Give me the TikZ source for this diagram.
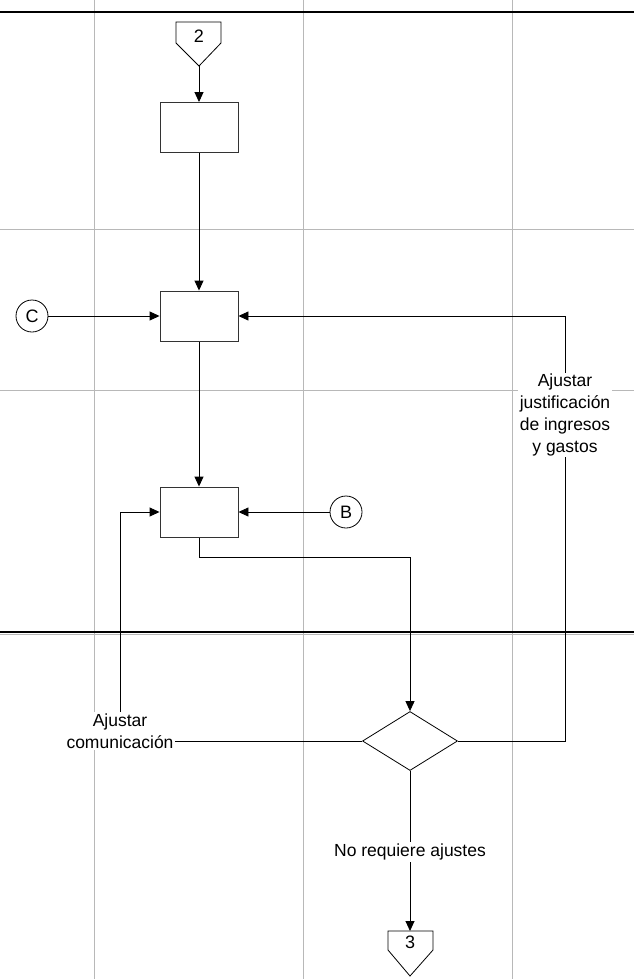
\documentclass[tikz,border=0pt]{standalone}
\usepackage{fontspec}
\setmainfont{Liberation Sans}
\usetikzlibrary{arrows.meta,shapes.geometric,backgrounds}
\begin{document}
\begin{tikzpicture}[x=1pt,y=-1pt,
  gridline/.style={draw=black!28, line width=0.9pt},
  laneline/.style={draw=black, line width=1.1pt},
  proc/.style={draw=black!80, line width=0.9pt, minimum width=78pt, minimum height=50pt, inner sep=0pt},
  conncirc/.style={draw, circle, line width=0.8pt, minimum size=32pt, inner sep=0pt, font=\fontsize{18}{20}\selectfont},
  decision/.style={draw, diamond, line width=0.8pt, minimum width=95pt, minimum height=59pt, inner sep=0pt},
  flow/.style={draw=black, line width=0.9pt},
  arr/.style={flow, -{Triangle[length=10pt,width=9pt]}},
  lbl/.style={fill=white, align=center, font=\fontsize{17.5}{21.7}\selectfont, inner sep=1.5pt},
  pagetxt/.style={font=\fontsize{18}{20}\selectfont, inner sep=0pt}
]
\useasboundingbox (0,0) rectangle (634,979);

% nodes
\node[pagetxt] (p2) at (199,36) {2};
\draw[line width=0.8pt] (176,22) -- (221,22) -- (221,43) -- (199,66) -- (176,43) -- cycle;
\coordinate (p2tip) at (199,66);

\node[proc] (b1) at (199,127.5) {};
\node[proc] (b2) at (199,316) {};
\node[proc] (b3) at (199,512) {};
\node[conncirc] (cC) at (32,316) {C};
\node[conncirc] (cB) at (346,512) {B};
\node[decision] (dia) at (410,741) {};

\node[pagetxt] (p3) at (410,942) {3};
\draw[line width=0.8pt] (388,931) -- (433,931) -- (433,950) -- (410,976) -- (388,950) -- cycle;
\coordinate (p3top) at (410,931);

\node[lbl] (lc) at (120,731) {Ajustar\\comunicación};
\node[lbl] (lj) at (565,415) {Ajustar\\justificación\\de ingresos\\y gastos};
\node[lbl] (ln) at (410,852) {No requiere ajustes};

\coordinate (c1) at (199,557);
\coordinate (c2) at (120,741);
\coordinate (c3) at (120,512);
\coordinate (c4) at (565,741);
\coordinate (c5) at (565,316);

\begin{scope}[on background layer]
  % grid
  \foreach \gx in {94,303,512} \draw[gridline] (\gx,0) -- (\gx,979);
  \foreach \gy in {229,390,634} \draw[gridline] (0,\gy) -- (634,\gy);
  \draw[laneline] (0,12) -- (634,12);
  \draw[laneline] (0,632) -- (634,632);
  % connectors
  \draw[arr] (p2tip) -- (b1.north);
  \draw[arr] (b1.south) -- (b2.north);
  \draw[arr] (cC.east) -- (b2.west);
  \draw[arr] (b2.south) -- (b3.north);
  \draw[arr] (cB.west) -- (b3.east);
  \draw[arr] (b3.south) -- (c1) -| (dia.north);
  \draw[arr] (dia.west) -- (c2) -- (c3) -- (b3.west);
  \draw[arr] (dia.east) -- (c4) -- (c5) -- (b2.east);
  \draw[arr] (dia.south) -- (p3top);
\end{scope}
\end{tikzpicture}
\end{document}
